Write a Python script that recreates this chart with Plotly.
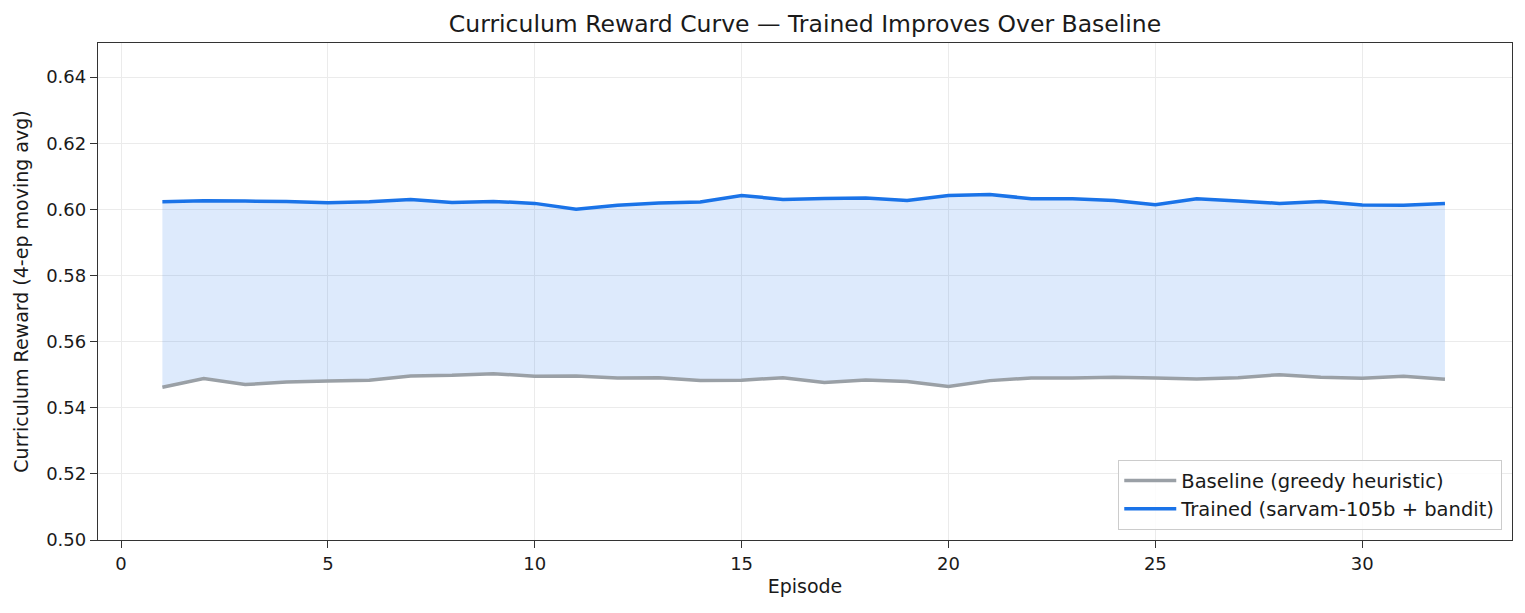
import plotly.graph_objects as go

episodes = list(range(1, 33))
baseline = [0.5462, 0.5488, 0.5470, 0.5478, 0.5481, 0.5483, 0.5496, 0.5498, 0.5503, 0.5495,
            0.5496, 0.5490, 0.5491, 0.5482, 0.5483, 0.5491, 0.5476, 0.5484, 0.5479, 0.5464,
            0.5482, 0.5490, 0.5490, 0.5492, 0.5490, 0.5487, 0.5491, 0.5500, 0.5492, 0.5489,
            0.5495, 0.5486]
trained = [0.6023, 0.6026, 0.6025, 0.6024, 0.6020, 0.6023, 0.6030, 0.6021, 0.6024, 0.6018,
           0.6000, 0.6012, 0.6019, 0.6022, 0.6042, 0.6030, 0.6033, 0.6034, 0.6027, 0.6042,
           0.6045, 0.6032, 0.6032, 0.6027, 0.6014, 0.6032, 0.6025, 0.6018, 0.6024, 0.6013,
           0.6012, 0.6018]
x_ticks = [0, 5, 10, 15, 20, 25, 30]
y_ticks = [0.50, 0.52, 0.54, 0.56, 0.58, 0.60, 0.62, 0.64]

BLUE = "#1a73e8"
GRAY = "#9aa0a6"
FONT = "DejaVu Sans"
TXT = "#1a1a1a"

fig = go.Figure()
fig.add_trace(go.Scatter(x=episodes, y=baseline, mode="lines", line=dict(width=0, color=GRAY),
                         showlegend=False, hoverinfo="skip"))
fig.add_trace(go.Scatter(x=episodes, y=trained, mode="lines", line=dict(width=0, color=BLUE),
                         fill="tonexty", fillcolor="rgba(26,115,232,0.15)",
                         showlegend=False, hoverinfo="skip"))
fig.add_trace(go.Scatter(x=episodes, y=baseline, mode="lines", name="Baseline (greedy heuristic)",
                         line=dict(width=3.5, color=GRAY)))
fig.add_trace(go.Scatter(x=episodes, y=trained, mode="lines", name="Trained (sarvam-105b + bandit)",
                         line=dict(width=3.5, color=BLUE)))

axis_common = dict(showline=True, linecolor="#333333", linewidth=1.3, mirror=True,
                   ticks="outside", ticklen=7, tickwidth=1.3, tickcolor="#333333",
                   showgrid=True, gridcolor="#ebebeb", gridwidth=1, zeroline=False,
                   tickfont=dict(family=FONT, size=18, color=TXT))

fig.update_xaxes(range=[-0.556, 33.62], tickvals=x_ticks,
                 title=dict(text="Episode", font=dict(family=FONT, size=19, color=TXT), standoff=6),
                 **axis_common)
fig.update_yaxes(range=[0.50, 0.6503], tickvals=y_ticks, tickformat=".2f",
                 title=dict(text="Curriculum Reward (4-ep moving avg)",
                            font=dict(family=FONT, size=19, color=TXT), standoff=12),
                 **axis_common)

# the page body adds an 8px offset, so the figure is 8px smaller and margins shifted
fig.update_layout(
    width=1517, height=605,
    margin=dict(l=90, r=13, t=35, b=73),
    paper_bgcolor="white", plot_bgcolor="white",
    title=dict(text="Curriculum Reward Curve — Trained Improves Over Baseline",
               font=dict(family=FONT, size=23.5, color=TXT),
               x=0.5, xanchor="center", xref="paper", y=1 - 16 / 605, yref="container", yanchor="middle"),
    legend=dict(x=0.9929, y=0.0201, xanchor="right", yanchor="bottom", traceorder="normal",
                itemwidth=52,
                bgcolor="rgba(255,255,255,0.85)", bordercolor="#cccccc", borderwidth=1.3,
                font=dict(family=FONT, size=19.5, color=TXT)),
    font=dict(family=FONT),
)

fig.write_html("out.html")
